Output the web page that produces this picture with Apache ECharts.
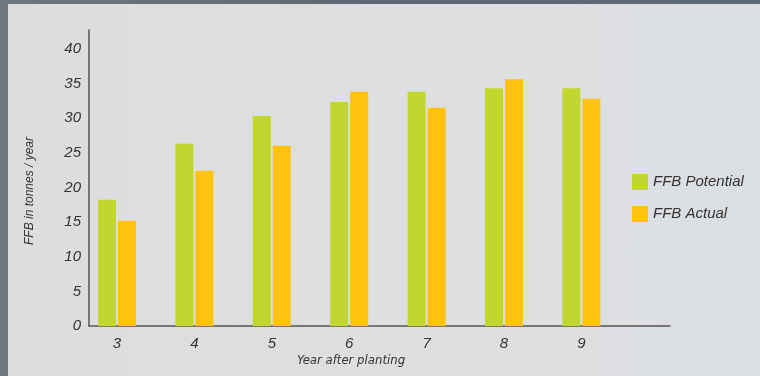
<!DOCTYPE html>
<html>
<head>
<meta charset="utf-8">
<script src="https://cdn.jsdelivr.net/npm/echarts@6/dist/echarts.min.js"></script>
<style>
  html, body { margin: 0; padding: 0; width: 760px; height: 376px; overflow: hidden;
    background: linear-gradient(90deg, #6e7680 0%, #5f6772 50%, #5e6979 100%); }
  #chart { position: absolute; left: 8px; top: 4px; width: 752px; height: 372px;
    background: linear-gradient(90deg, #dcdddf 0%, #dedfe0 50%, #dcdfe2 100%); }
</style>
</head>
<body>
<div id="chart"></div>
<script>
const years = [3, 4, 5, 6, 7, 8, 9];
const potential = [18.2, 26.3, 30.3, 32.3, 33.8, 34.3, 34.3];
const actual = [15.2, 22.4, 26.0, 33.8, 31.5, 35.6, 32.8];
const yTicks = [0, 5, 10, 15, 20, 25, 30, 35, 40];
const seriesNames = ['FFB Potential', 'FFB Actual'];

const chart = echarts.init(document.getElementById('chart'), null, { renderer: 'canvas' });
const FONT = "'DejaVu Sans Condensed', 'Liberation Sans', sans-serif";
const italic = { fontStyle: 'italic', color: '#333', fontFamily: 'Liberation Sans' };
chart.setOption({
  animation: false,
  backgroundColor: 'transparent',
  title: {
    text: 'Year after planting',
    left: 338, top: 345, textAlign: 'center',
    textStyle: { fontStyle: 'italic', fontWeight: 'normal', color: '#333', fontSize: 13, fontFamily: FONT }
  },
  grid: { left: 81, top: 26, right: 90, bottom: 50 },
  legend: {
    orient: 'vertical', left: 619, top: 165,
    itemWidth: 16, itemHeight: 16, itemGap: 16, icon: 'rect',
    textStyle: Object.assign({ fontSize: 15 }, italic),
    data: seriesNames
  },
  xAxis: {
    type: 'value', min: 2.638, max: 10.145,
    axisLine: { lineStyle: { color: '#555', width: 1.5 } },
    axisTick: { show: false },
    splitLine: { show: false },
    axisLabel: Object.assign({ fontSize: 15, margin: 10, customValues: years }, italic)
  },
  yAxis: {
    type: 'value', min: 0, max: 42.7, interval: 5,
    name: 'FFB in tonnes / year', nameLocation: 'middle', nameGap: 53, nameRotate: 90,
    nameTextStyle: Object.assign({ fontSize: 12, padding: [0, 26, 0, 0] }, italic),
    axisLine: { show: true, lineStyle: { color: '#555', width: 1.5 } },
    axisTick: { show: false },
    splitLine: { show: false },
    axisLabel: Object.assign({ fontSize: 15, margin: 8, customValues: yTicks }, italic)
  },
  series: [
    { name: seriesNames[0], type: 'bar', barWidth: 18, barGap: '11%',
      itemStyle: { color: '#c1d72f' },
      data: years.map((y, i) => [y, potential[i]]) },
    { name: seriesNames[1], type: 'bar', barWidth: 18, barGap: '11%',
      itemStyle: { color: '#fec20f' },
      data: years.map((y, i) => [y, actual[i]]) }
  ]
});
</script>
</body>
</html>
